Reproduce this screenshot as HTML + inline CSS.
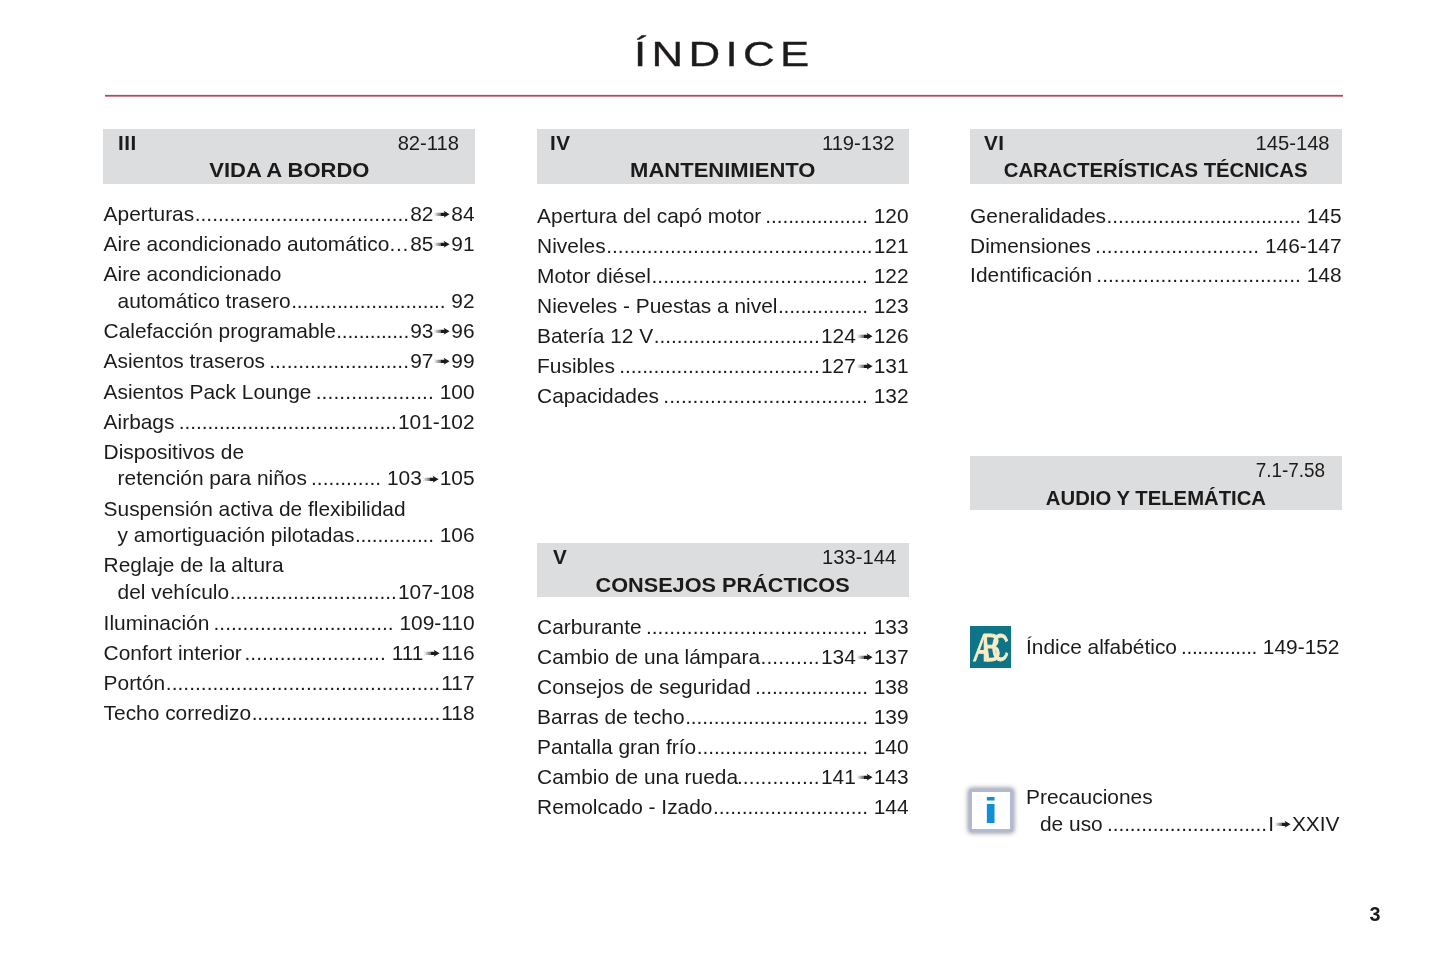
<!DOCTYPE html>
<html lang="es"><head><meta charset="utf-8"><title>Índice</title>
<style>
html,body{margin:0;padding:0;background:#fff}
body{width:1445px;height:964px;position:relative;overflow:hidden;font-family:"Liberation Sans",Arial,sans-serif;color:#1c1b1a}
.title{position:absolute;left:0;width:1445px;top:30.4px;text-align:center;font-size:34.4px;line-height:48px;letter-spacing:4.2px;white-space:nowrap;-webkit-text-stroke:.3px #231f20}
.title span{display:inline-block;transform:scaleX(1.275);transform-origin:50% 50%;padding-left:3px}
.rule{position:absolute;left:105px;top:94px;width:1238px;height:3px;background:linear-gradient(to bottom,rgba(178,72,94,.12) 0,rgba(178,72,94,.12) 1px,#b2485e 1px,#b2485e 2px,rgba(178,72,94,.65) 2px,rgba(178,72,94,.65) 3px)}
.h{position:absolute;width:372px;background:#dcddde}
.h span{position:absolute;white-space:nowrap;line-height:24px}
.h .r{left:14.6px;top:2.2px;font-weight:bold;font-size:19.5px;transform:scaleX(1.06);transform-origin:0 50%;letter-spacing:.5px}
.h .p{right:16px;top:2px;font-size:20.2px;transform-origin:100% 50%}
.h .t{left:0;width:100%;text-align:center;top:29.4px;font-size:19.9px}
.h .t b{display:inline-block;transform-origin:50% 50%}
.l{position:absolute;height:30px;line-height:30px;font-size:20.9px;white-space:pre}
.n{position:absolute;right:0;top:0}
.g{display:inline-block;width:1.2px}
.ar{display:inline-block;vertical-align:1.8px}
.pn{position:absolute;left:1369.5px;top:898.8px;font-weight:bold;font-size:19.8px;line-height:30px}
.abc{position:absolute;left:970px;top:625.7px;width:41.4px;height:41.9px;background:#0d7585;overflow:hidden}
.info{position:absolute;left:969px;top:789px;width:38px;height:37px;border:3px solid #b2bad3;background:#fff;box-shadow:0 0 5px 1px rgba(70,75,100,.6);border-radius:2.5px;overflow:hidden}
</style></head><body>
<div class="title"><span>ÍNDICE</span></div>
<div class="rule"></div>
<div class="h" style="left:103px;top:129px;height:55px"><span class="r" style="left:14.6px;top:2.2px">III</span><span class="p" style="right:16px;top:2.0px">82-118</span><span class="t" style="top:29.4px"><b style="transform:scaleX(1.106)">VIDA A BORDO</b></span></div>
<div class="h" style="left:537px;top:129px;height:55px"><span class="r" style="left:13.4px;top:2.2px">IV</span><span class="p" style="right:14.5px;top:2.0px">119-132</span><span class="t" style="top:29.4px"><b style="transform:scaleX(1.106)">MANTENIMIENTO</b></span></div>
<div class="h" style="left:970px;top:129px;height:55px"><span class="r" style="left:13.6px;top:2.2px">VI</span><span class="p" style="right:12.4px;top:2.0px">145-148</span><span class="t" style="top:29.4px"><b style="transform:scaleX(1.022)">CARACTERÍSTICAS TÉCNICAS</b></span></div>
<div class="h" style="left:537px;top:543px;height:54px"><span class="r" style="left:15.8px;top:2.4px">V</span><span class="p" style="right:12.8px;top:2.2px">133-144</span><span class="t" style="top:29.6px"><b style="transform:scaleX(1.09)">CONSEJOS PRÁCTICOS</b></span></div>
<div class="h" style="left:970px;top:456px;height:54px"><span class="p" style="right:17.3px;top:2.2px;transform:scaleX(0.937)">7.1-7.58</span><span class="t" style="top:29.6px"><b style="transform:scaleX(1.02)">AUDIO Y TELEMÁTICA</b></span></div>
<div class="l" style="left:103.6px;top:199px;width:371.0px">Aperturas<span class="n"><span style="letter-spacing:-0.014px">.....................................</span><i class="g"></i>82<svg class="ar" viewBox="0 0 17.9 10" width="17.9" height="10"><g fill="#1d1a1b" transform="translate(0 .35)"><path d="M1.2 2.9L2.4 5L1.2 7.1" fill="none" stroke="#231f20" stroke-width=".5" opacity=".3"/><rect x="2.9" y="3.4" width=".6" height="3.2" opacity=".45"/><rect x="3.9" y="3.4" width=".6" height="3.2" opacity=".55"/><rect x="4.9" y="3.4" width=".65" height="3.2" opacity=".7"/><rect x="5.9" y="3.4" width=".65" height="3.2" opacity=".85"/><rect x="6.9" y="3.4" width=".7" height="3.2" opacity=".95"/><path d="M7.9 3.4H11.5L10.6 1.5L16.6 5L10.6 8.5L11.5 6.6H7.9Z"/></g></svg>84</span></div>
<div class="l" style="left:103.6px;top:229px;width:371.0px">Aire acondicionado automático<span class="n"><span style="letter-spacing:0.664px">...</span><i class="g"></i>85<svg class="ar" viewBox="0 0 17.9 10" width="17.9" height="10"><g fill="#1d1a1b" transform="translate(0 .35)"><path d="M1.2 2.9L2.4 5L1.2 7.1" fill="none" stroke="#231f20" stroke-width=".5" opacity=".3"/><rect x="2.9" y="3.4" width=".6" height="3.2" opacity=".45"/><rect x="3.9" y="3.4" width=".6" height="3.2" opacity=".55"/><rect x="4.9" y="3.4" width=".65" height="3.2" opacity=".7"/><rect x="5.9" y="3.4" width=".65" height="3.2" opacity=".85"/><rect x="6.9" y="3.4" width=".7" height="3.2" opacity=".95"/><path d="M7.9 3.4H11.5L10.6 1.5L16.6 5L10.6 8.5L11.5 6.6H7.9Z"/></g></svg>91</span></div>
<div class="l" style="left:103.6px;top:259px">Aire acondicionado</div>
<div class="l" style="left:117.6px;top:286px;width:357.0px">automático trasero<span class="n"><span style="letter-spacing:-0.086px">...........................</span> 92</span></div>
<div class="l" style="left:103.6px;top:316px;width:371.0px">Calefacción programable<span class="n"><span style="letter-spacing:-0.207px">.............</span><i class="g"></i>93<svg class="ar" viewBox="0 0 17.9 10" width="17.9" height="10"><g fill="#1d1a1b" transform="translate(0 .35)"><path d="M1.2 2.9L2.4 5L1.2 7.1" fill="none" stroke="#231f20" stroke-width=".5" opacity=".3"/><rect x="2.9" y="3.4" width=".6" height="3.2" opacity=".45"/><rect x="3.9" y="3.4" width=".6" height="3.2" opacity=".55"/><rect x="4.9" y="3.4" width=".65" height="3.2" opacity=".7"/><rect x="5.9" y="3.4" width=".65" height="3.2" opacity=".85"/><rect x="6.9" y="3.4" width=".7" height="3.2" opacity=".95"/><path d="M7.9 3.4H11.5L10.6 1.5L16.6 5L10.6 8.5L11.5 6.6H7.9Z"/></g></svg>96</span></div>
<div class="l" style="left:103.6px;top:346px;width:371.0px">Asientos traseros<span class="n"><span style="letter-spacing:0.021px">........................</span><i class="g"></i>97<svg class="ar" viewBox="0 0 17.9 10" width="17.9" height="10"><g fill="#1d1a1b" transform="translate(0 .35)"><path d="M1.2 2.9L2.4 5L1.2 7.1" fill="none" stroke="#231f20" stroke-width=".5" opacity=".3"/><rect x="2.9" y="3.4" width=".6" height="3.2" opacity=".45"/><rect x="3.9" y="3.4" width=".6" height="3.2" opacity=".55"/><rect x="4.9" y="3.4" width=".65" height="3.2" opacity=".7"/><rect x="5.9" y="3.4" width=".65" height="3.2" opacity=".85"/><rect x="6.9" y="3.4" width=".7" height="3.2" opacity=".95"/><path d="M7.9 3.4H11.5L10.6 1.5L16.6 5L10.6 8.5L11.5 6.6H7.9Z"/></g></svg>99</span></div>
<div class="l" style="left:103.6px;top:377px;width:371.0px">Asientos Pack Lounge<span class="n"><span style="letter-spacing:0.109px">....................</span> 100</span></div>
<div class="l" style="left:103.6px;top:406.6px;width:371.0px">Airbags<span class="n"><span style="letter-spacing:-0.068px">......................................</span><i class="g"></i>101-102</span></div>
<div class="l" style="left:103.6px;top:436.6px">Dispositivos de</div>
<div class="l" style="left:117.6px;top:463.4px;width:357.0px">retención para niños<span class="n"><span style="letter-spacing:0.042px">............</span> 103<svg class="ar" viewBox="0 0 17.9 10" width="17.9" height="10"><g fill="#1d1a1b" transform="translate(0 .35)"><path d="M1.2 2.9L2.4 5L1.2 7.1" fill="none" stroke="#231f20" stroke-width=".5" opacity=".3"/><rect x="2.9" y="3.4" width=".6" height="3.2" opacity=".45"/><rect x="3.9" y="3.4" width=".6" height="3.2" opacity=".55"/><rect x="4.9" y="3.4" width=".65" height="3.2" opacity=".7"/><rect x="5.9" y="3.4" width=".65" height="3.2" opacity=".85"/><rect x="6.9" y="3.4" width=".7" height="3.2" opacity=".95"/><path d="M7.9 3.4H11.5L10.6 1.5L16.6 5L10.6 8.5L11.5 6.6H7.9Z"/></g></svg>105</span></div>
<div class="l" style="left:103.6px;top:493.6px">Suspensión activa de flexibilidad</div>
<div class="l" style="left:117.6px;top:520.4px;width:357.0px">y amortiguación pilotadas<span class="n"><span style="letter-spacing:-0.161px">..............</span> 106</span></div>
<div class="l" style="left:103.6px;top:550px">Reglaje de la altura</div>
<div class="l" style="left:117.6px;top:577px;width:357.0px">del vehículo<span class="n"><span style="letter-spacing:-0.043px">.............................</span><i class="g"></i>107-108</span></div>
<div class="l" style="left:103.6px;top:607.5px;width:371.0px">Iluminación<span class="n"><span style="letter-spacing:0.007px">...............................</span> 109-110</span></div>
<div class="l" style="left:103.6px;top:637.5px;width:371.0px">Confort interior<span class="n"><span style="letter-spacing:0.087px">........................</span> 111<svg class="ar" viewBox="0 0 17.9 10" width="17.9" height="10"><g fill="#1d1a1b" transform="translate(0 .35)"><path d="M1.2 2.9L2.4 5L1.2 7.1" fill="none" stroke="#231f20" stroke-width=".5" opacity=".3"/><rect x="2.9" y="3.4" width=".6" height="3.2" opacity=".45"/><rect x="3.9" y="3.4" width=".6" height="3.2" opacity=".55"/><rect x="4.9" y="3.4" width=".65" height="3.2" opacity=".7"/><rect x="5.9" y="3.4" width=".65" height="3.2" opacity=".85"/><rect x="6.9" y="3.4" width=".7" height="3.2" opacity=".95"/><path d="M7.9 3.4H11.5L10.6 1.5L16.6 5L10.6 8.5L11.5 6.6H7.9Z"/></g></svg>116</span></div>
<div class="l" style="left:103.6px;top:668px;width:371.0px">Portón<span class="n"><span style="letter-spacing:0.031px">...............................................</span><i class="g"></i>117</span></div>
<div class="l" style="left:103.6px;top:698px;width:371.0px">Techo corredizo<span class="n"><span style="letter-spacing:-0.094px">.................................</span><i class="g"></i>118</span></div>
<div class="l" style="left:537.1px;top:200.5px;width:371.5px">Apertura del capó motor<span class="n"><span style="letter-spacing:-0.107px">..................</span> 120</span></div>
<div class="l" style="left:537.1px;top:230.5px;width:371.5px">Niveles<span class="n"><span style="letter-spacing:-0.016px">..............................................</span><i class="g"></i>121</span></div>
<div class="l" style="left:537.1px;top:260.5px;width:371.5px">Motor diésel<span class="n"><span style="letter-spacing:0.045px">.....................................</span> 122</span></div>
<div class="l" style="left:537.1px;top:290.5px;width:371.5px">Nieveles - Puestas a nivel<span class="n"><span style="letter-spacing:-0.177px">................</span> 123</span></div>
<div class="l" style="left:537.1px;top:320.5px;width:371.5px">Batería 12 V<span class="n"><span style="letter-spacing:-0.080px">.............................</span><i class="g"></i>124<svg class="ar" viewBox="0 0 17.9 10" width="17.9" height="10"><g fill="#1d1a1b" transform="translate(0 .35)"><path d="M1.2 2.9L2.4 5L1.2 7.1" fill="none" stroke="#231f20" stroke-width=".5" opacity=".3"/><rect x="2.9" y="3.4" width=".6" height="3.2" opacity=".45"/><rect x="3.9" y="3.4" width=".6" height="3.2" opacity=".55"/><rect x="4.9" y="3.4" width=".65" height="3.2" opacity=".7"/><rect x="5.9" y="3.4" width=".65" height="3.2" opacity=".85"/><rect x="6.9" y="3.4" width=".7" height="3.2" opacity=".95"/><path d="M7.9 3.4H11.5L10.6 1.5L16.6 5L10.6 8.5L11.5 6.6H7.9Z"/></g></svg>126</span></div>
<div class="l" style="left:537.1px;top:351px;width:371.5px">Fusibles<span class="n"><span style="letter-spacing:-0.073px">...................................</span><i class="g"></i>127<svg class="ar" viewBox="0 0 17.9 10" width="17.9" height="10"><g fill="#1d1a1b" transform="translate(0 .35)"><path d="M1.2 2.9L2.4 5L1.2 7.1" fill="none" stroke="#231f20" stroke-width=".5" opacity=".3"/><rect x="2.9" y="3.4" width=".6" height="3.2" opacity=".45"/><rect x="3.9" y="3.4" width=".6" height="3.2" opacity=".55"/><rect x="4.9" y="3.4" width=".65" height="3.2" opacity=".7"/><rect x="5.9" y="3.4" width=".65" height="3.2" opacity=".85"/><rect x="6.9" y="3.4" width=".7" height="3.2" opacity=".95"/><path d="M7.9 3.4H11.5L10.6 1.5L16.6 5L10.6 8.5L11.5 6.6H7.9Z"/></g></svg>131</span></div>
<div class="l" style="left:537.1px;top:381px;width:371.5px">Capacidades<span class="n"><span style="letter-spacing:0.041px">...................................</span> 132</span></div>
<div class="l" style="left:537.1px;top:611.5px;width:371.5px">Carburante<span class="n"><span style="letter-spacing:0.038px">......................................</span> 133</span></div>
<div class="l" style="left:537.1px;top:641.5px;width:371.5px">Cambio de una lámpara<span class="n"><span style="letter-spacing:0.129px">..........</span><i class="g"></i>134<svg class="ar" viewBox="0 0 17.9 10" width="17.9" height="10"><g fill="#1d1a1b" transform="translate(0 .35)"><path d="M1.2 2.9L2.4 5L1.2 7.1" fill="none" stroke="#231f20" stroke-width=".5" opacity=".3"/><rect x="2.9" y="3.4" width=".6" height="3.2" opacity=".45"/><rect x="3.9" y="3.4" width=".6" height="3.2" opacity=".55"/><rect x="4.9" y="3.4" width=".65" height="3.2" opacity=".7"/><rect x="5.9" y="3.4" width=".65" height="3.2" opacity=".85"/><rect x="6.9" y="3.4" width=".7" height="3.2" opacity=".95"/><path d="M7.9 3.4H11.5L10.6 1.5L16.6 5L10.6 8.5L11.5 6.6H7.9Z"/></g></svg>137</span></div>
<div class="l" style="left:537.1px;top:671.5px;width:371.5px">Consejos de seguridad<span class="n"><span style="letter-spacing:-0.156px">....................</span> 138</span></div>
<div class="l" style="left:537.1px;top:701.5px;width:371.5px">Barras de techo<span class="n"><span style="letter-spacing:-0.092px">................................</span> 139</span></div>
<div class="l" style="left:537.1px;top:731.5px;width:371.5px">Pantalla gran frío<span class="n"><span style="letter-spacing:-0.099px">..............................</span> 140</span></div>
<div class="l" style="left:537.1px;top:761.5px;width:371.5px">Cambio de una rueda<span class="n"><span style="letter-spacing:0.117px">..............</span><i class="g"></i>141<svg class="ar" viewBox="0 0 17.9 10" width="17.9" height="10"><g fill="#1d1a1b" transform="translate(0 .35)"><path d="M1.2 2.9L2.4 5L1.2 7.1" fill="none" stroke="#231f20" stroke-width=".5" opacity=".3"/><rect x="2.9" y="3.4" width=".6" height="3.2" opacity=".45"/><rect x="3.9" y="3.4" width=".6" height="3.2" opacity=".55"/><rect x="4.9" y="3.4" width=".65" height="3.2" opacity=".7"/><rect x="5.9" y="3.4" width=".65" height="3.2" opacity=".85"/><rect x="6.9" y="3.4" width=".7" height="3.2" opacity=".95"/><path d="M7.9 3.4H11.5L10.6 1.5L16.6 5L10.6 8.5L11.5 6.6H7.9Z"/></g></svg>143</span></div>
<div class="l" style="left:537.1px;top:792px;width:371.5px">Remolcado - Izado<span class="n"><span style="letter-spacing:-0.065px">...........................</span> 144</span></div>
<div class="l" style="left:970.1px;top:200.5px;width:371.5px">Generalidades<span class="n"><span style="letter-spacing:-0.088px">..................................</span> 145</span></div>
<div class="l" style="left:970.1px;top:230.5px;width:371.5px">Dimensiones<span class="n"><span style="letter-spacing:0.054px">............................</span> 146-147</span></div>
<div class="l" style="left:970.1px;top:260.4px;width:371.5px">Identificación<span class="n"><span style="letter-spacing:0.042px">...................................</span> 148</span></div>
<div class="l" style="left:1026px;top:632px;width:313.5px">Índice alfabético<span class="n"><span style="letter-spacing:-0.382px">..............</span> 149-152</span></div>
<div class="l" style="left:1026px;top:782px">Precauciones</div>
<div class="l" style="left:1040px;top:808.7px;width:299.5px">de uso<span class="n"><span style="letter-spacing:-0.090px">............................</span><i class="g"></i>I<svg class="ar" viewBox="0 0 17.9 10" width="17.9" height="10"><g fill="#1d1a1b" transform="translate(0 .35)"><path d="M1.2 2.9L2.4 5L1.2 7.1" fill="none" stroke="#231f20" stroke-width=".5" opacity=".3"/><rect x="2.9" y="3.4" width=".6" height="3.2" opacity=".45"/><rect x="3.9" y="3.4" width=".6" height="3.2" opacity=".55"/><rect x="4.9" y="3.4" width=".65" height="3.2" opacity=".7"/><rect x="5.9" y="3.4" width=".65" height="3.2" opacity=".85"/><rect x="6.9" y="3.4" width=".7" height="3.2" opacity=".95"/><path d="M7.9 3.4H11.5L10.6 1.5L16.6 5L10.6 8.5L11.5 6.6H7.9Z"/></g></svg>XXIV</span></div>
<div class="abc"><svg width="42" height="42" viewBox="0 0 42 42"><g fill="#f8ebc6" stroke="#f8ebc6" stroke-width=".9" font-family="Liberation Sans, Arial, sans-serif" font-size="38.6"><text transform="translate(3.3 35) skewX(-7) scale(.62 1)">A</text><text transform="translate(11.8 35) scale(.74 1)">B</text><text transform="translate(21.6 35) scale(.62 1)">C</text></g></svg></div>
<div class="info"><svg width="38" height="37" viewBox="0 0 38 37"><text x="0" y="0" transform="translate(10.9 31) scale(1.61 1)" font-family="Liberation Sans, Arial, sans-serif" font-weight="bold" font-size="34.5" fill="#0f8fd6">i</text></svg></div>
<div class="pn">3</div>
</body></html>
